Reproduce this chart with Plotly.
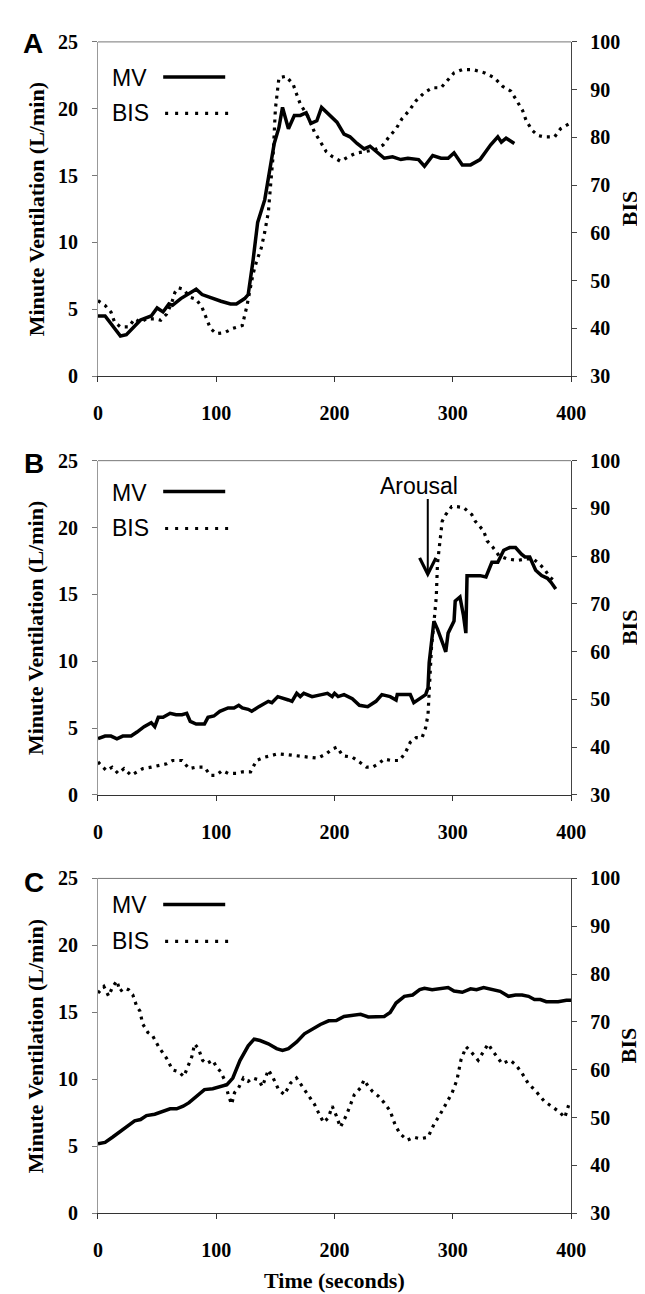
import plotly.graph_objects as go

# ---------------- data ----------------
# Panel A
tA_mv = [0, 6, 19, 24, 36, 45, 50, 55, 60, 63, 70, 83, 88, 97, 104, 112, 117, 124, 127, 131,
         135, 141, 146, 149, 153, 156, 161, 166, 171, 176, 180, 185, 189, 195, 202, 208, 213, 219, 225, 230,
         235, 242, 249, 256, 262, 271, 276, 283, 290, 296, 301, 308, 315, 323, 332, 338, 341, 345, 352]
mvA = [4.5, 4.5, 3.0, 3.1, 4.2, 4.5, 5.1, 4.8, 5.4, 5.3, 5.8, 6.5, 6.1, 5.8, 5.6, 5.4, 5.4, 5.8, 6.1, 8.6,
       11.5, 13.2, 15.9, 17.4, 18.6, 20.1, 18.5, 19.5, 19.5, 19.7, 18.9, 19.1, 20.1, 19.6, 19.0, 18.1, 17.9, 17.4, 17.0, 17.2,
       16.8, 16.3, 16.4, 16.2, 16.3, 16.2, 15.7, 16.5, 16.3, 16.3, 16.7, 15.8, 15.8, 16.2, 17.3, 17.9, 17.5, 17.8, 17.4]
tA_bis = [0, 6, 11, 14, 19, 26, 31, 36, 41, 48, 53, 58, 62, 65, 68, 72, 78, 83, 88, 92,
          95, 100, 107, 114, 122, 126, 131, 134, 138, 141, 144, 146, 148, 150, 153, 159, 165, 168, 171, 178,
          183, 188, 193, 198, 205, 212, 218, 225, 234, 241, 246, 252, 257, 263, 269, 276, 283, 290, 296, 301,
          308, 317, 327, 335, 342, 349, 354, 359, 362, 367, 372, 377, 386, 391, 398]
bisA = [45.8, 44.8, 43.4, 41.3, 40.3, 40.3, 42.0, 41.3, 42.0, 42.0, 41.7, 43.0, 45.1, 47.5, 48.5, 48.2, 46.5, 46.1, 44.4, 42.0,
        40.0, 38.9, 39.1, 40.0, 40.6, 44.8, 51.3, 54.0, 56.8, 60.2, 64.3, 70.2, 76.0, 86.0, 92.5, 92.8, 91.1, 89.0, 87.0, 84.2,
        81.1, 79.1, 77.0, 76.0, 75.0, 76.0, 76.7, 77.0, 77.4, 78.4, 80.1, 81.8, 83.9, 85.6, 87.7, 89.4, 90.4, 90.4, 92.1, 93.5,
        94.2, 94.2, 93.5, 92.5, 90.7, 89.7, 87.7, 85.6, 83.5, 81.5, 80.4, 80.1, 80.1, 81.8, 82.8]

# Panel B
tB_mv = [0, 6, 11, 16, 21, 28, 33, 39, 45, 48, 51, 55, 61, 66, 71, 75, 78, 83, 90, 93,
         98, 103, 110, 115, 119, 122, 127, 130, 136, 144, 147, 152, 161, 164, 168, 171, 174, 181, 189, 194,
         198, 200, 203, 208, 215, 221, 228, 235, 240, 247, 252, 253, 260, 264, 267, 270, 277, 279, 280, 284,
         287, 292, 294, 296, 301, 302, 306, 309, 311, 312, 318, 323, 328, 333, 338, 343, 348, 353, 358, 361,
         365, 370, 375, 380, 383, 387]
mvB = [4.2, 4.4, 4.4, 4.2, 4.4, 4.4, 4.7, 5.1, 5.4, 5.1, 5.8, 5.8, 6.1, 6.0, 6.0, 6.1, 5.5, 5.3, 5.3, 5.8,
       5.9, 6.25, 6.5, 6.5, 6.7, 6.5, 6.4, 6.25, 6.6, 7.0, 6.9, 7.35, 7.1, 7.0, 7.6, 7.35, 7.6, 7.35, 7.5, 7.6,
       7.35, 7.6, 7.35, 7.5, 7.2, 6.7, 6.6, 7.0, 7.5, 7.35, 7.1, 7.5, 7.5, 7.5, 6.9, 7.1, 7.5, 8.0, 9.9, 13.0,
       12.4, 11.2, 10.7, 12.1, 13.0, 14.5, 14.8, 13.4, 12.1, 16.4, 16.4, 16.4, 16.3, 17.4, 17.4, 18.3, 18.5, 18.5, 18.0, 17.8,
       17.8, 16.8, 16.4, 16.2, 15.9, 15.4]
tB_bis = [0, 7, 12, 17, 22, 28, 33, 38, 45, 51, 58, 63, 71, 77, 83, 90, 95, 100, 105, 110,
          117, 122, 129, 134, 141, 146, 152, 161, 169, 178, 186, 193, 198, 202, 207, 215, 221, 227, 232, 237,
          242, 248, 255, 260, 264, 269, 274, 277, 279, 280, 281, 282, 284, 286, 287, 289, 291, 294, 299, 302,
          309, 316, 319, 326, 329, 334, 339, 346, 355, 361, 368, 373, 377, 382, 385]
bisB = [36.9, 35.1, 35.8, 34.5, 35.5, 34.1, 34.8, 35.5, 35.8, 36.2, 36.5, 37.2, 37.2, 35.5, 35.8, 35.8, 34.1, 34.1, 35.1, 34.5,
        34.5, 34.8, 34.8, 37.2, 37.9, 38.2, 38.6, 38.4, 38.1, 37.9, 37.7, 38.6, 39.6, 40.0, 38.2, 37.9, 36.9, 35.8, 35.8, 36.5,
        37.5, 37.2, 37.2, 38.9, 41.0, 42.0, 42.0, 44.1, 46.8, 50.9, 54.4, 61.2, 66.0, 71.5, 78.4, 82.5, 87.3, 88.7, 90.4, 90.4,
        90.2, 88.7, 87.3, 85.3, 83.2, 81.8, 80.1, 79.4, 79.1, 79.4, 79.4, 78.4, 77.4, 75.6, 75.0]

# Panel C
tC_mv = [0, 6, 12.5, 19, 24, 31, 36, 41, 48, 55, 61, 66.5, 72, 77, 83, 90, 97, 104, 109, 114,
         120, 127, 132, 137, 144, 151, 156, 161, 168, 174.5, 181, 188, 195, 201.5, 208, 215, 222, 228.5, 235, 242,
         247, 252, 259, 266, 272, 276, 282.5, 289, 296, 301, 308, 315, 320, 326, 333, 340, 347, 353, 358.5, 364,
         369, 374, 379, 384, 389, 396, 400]
mvC = [5.2, 5.3, 5.7, 6.1, 6.4, 6.9, 7.0, 7.3, 7.4, 7.65, 7.8, 7.8, 8.0, 8.26, 8.75, 9.24, 9.3, 9.5, 9.6, 10.1,
       11.4, 12.5, 13.0, 12.9, 12.66, 12.3, 12.17, 12.3, 12.8, 13.4, 13.76, 14.1, 14.37, 14.4, 14.7, 14.8, 14.86, 14.66, 14.7, 14.7,
       15.0, 15.7, 16.2, 16.3, 16.7, 16.8, 16.7, 16.8, 16.86, 16.6, 16.5, 16.76, 16.7, 16.86, 16.7, 16.57, 16.2, 16.3, 16.3, 16.2,
       15.96, 15.96, 15.8, 15.8, 15.8, 15.9, 15.9]
tC_bis = [0, 5, 9, 12.5, 16, 18.6, 22.6, 26, 29.4, 32.7, 35.4, 37.8, 42.2, 46, 51.3, 58, 63, 68, 72.6, 76,
          79.3, 81.7, 85, 88.4, 91.8, 96.9, 100, 103.6, 107, 110.4, 113, 115.4, 118.8, 123, 127, 130.6, 135.7, 139, 144, 147.5,
          152.6, 157.6, 162.7, 167.8, 172.8, 177.9, 183, 186.3, 190.7, 194.8, 198, 201.5, 204.9, 210, 213.3, 216.7, 221.8, 225, 228.5, 232,
          237, 242, 247, 251.5, 255.5, 261.6, 267.3, 272.4, 279, 284.2, 289.3, 294.3, 299.4, 303.5, 306.8, 311.2, 315.6, 321.4, 324.7, 329.8,
          333.2, 336.5, 341.6, 348.4, 353.4, 358.5, 363.6, 370.3, 377, 383.8, 390.6, 394.6, 399]
bisC = [76.05, 77.4, 75.4, 77.4, 78.6, 76.4, 77.1, 76.7, 75.7, 73.3, 72.3, 69.6, 67.8, 67.2, 64.8, 62.4, 60.0, 59.6, 58.6, 60.7,
        62.7, 65.4, 64.4, 62.0, 61.3, 62.0, 60.7, 59.6, 57.9, 54.5, 52.8, 55.2, 56.2, 58.3, 57.6, 58.3, 57.9, 56.5, 60.0, 58.6,
        55.9, 54.8, 57.2, 58.3, 56.5, 54.5, 52.8, 51.1, 49.0, 50.0, 52.4, 50.4, 48.0, 50.5, 52.8, 54.8, 56.2, 57.9, 56.5, 55.5,
        54.5, 53.1, 51.4, 48.3, 46.6, 45.3, 45.9, 45.6, 45.9, 48.7, 50.7, 52.8, 55.2, 57.9, 62.0, 64.8, 63.7, 62.0, 63.4, 65.4,
        64.1, 63.0, 61.3, 62.0, 61.0, 59.3, 57.2, 55.5, 53.5, 52.3, 51.1, 50.0, 53.5]

panel_labels = ["A", "B", "C"]
x_ticks = [0, 100, 200, 300, 400]
mv_range = [0, 25]
bis_range = [30, 100]
series_names = ["MV", "BIS"]
left_title = "Minute Ventilation (L/min)"
right_title = "BIS"
bottom_title = "Time (seconds)"
event_label = "Arousal"
event_time = 278.8
event_mv = [22.25, 16.25]

# ---------------- layout helpers ----------------
W, H = 645, 1294
def px(x):
    return x / W
def py(y):
    return 1 - y / H

X0, X1 = 87.7, 576.0
tops = [23.3, 449.3, 874.3]
bottoms = [363.3, 789.3, 1215.0]
legend_y = [(60.0, 96.0), (481.7, 518.3), (901.7, 938.3)]
letter_pos = [(21, 25), (22, 452), (22, 878)]

SERIF = "Liberation Serif, Times New Roman, serif"
SANS = "Liberation Sans, Arial, sans-serif"
DOT = "3px,5px"

fig = go.Figure()
data = [(tA_mv, mvA, tA_bis, bisA), (tB_mv, mvB, tB_bis, bisB), (tC_mv, mvC, tC_bis, bisC)]

for i, (tm, mv, tb, bis) in enumerate(data):
    xa = "x" if i == 0 else f"x{i+1}"
    ya = "y" if i == 0 else f"y{2*i+1}"
    yb = f"y{2*i+2}"
    fig.add_trace(go.Scatter(x=tm, y=mv, xaxis=xa, yaxis=ya, mode="lines",
                             line=dict(color="black", width=3.5), name=series_names[0], showlegend=False))
    fig.add_trace(go.Scatter(x=tb, y=bis, xaxis=xa, yaxis=yb, mode="lines",
                             line=dict(color="black", width=3.2, dash=DOT), name=series_names[1], showlegend=False))

tickfont = dict(family=SERIF, size=20, color="black", weight="bold")
layout = dict(width=W, height=H, margin=dict(l=0, r=0, t=0, b=0),
              plot_bgcolor="white", paper_bgcolor="white", showlegend=False)
annotations = []
shapes = []
for i in range(3):
    xk = "xaxis" if i == 0 else f"xaxis{i+1}"
    yk = "yaxis" if i == 0 else f"yaxis{2*i+1}"
    yk2 = f"yaxis{2*i+2}"
    xa = "x" if i == 0 else f"x{i+1}"
    ya = "y" if i == 0 else f"y{2*i+1}"
    layout[xk] = dict(domain=[px(X0), px(X1)], anchor=ya, range=[0, 400], tickvals=x_ticks,
                      ticks="outside", ticklen=5, tickcolor="#333", showline=True, linecolor="#333",
                      linewidth=1.3, showgrid=False, zeroline=False, tickfont=tickfont,
                      ticklabelstandoff=14)
    layout[yk] = dict(domain=[py(bottoms[i]), py(tops[i])], anchor=xa, range=mv_range, dtick=5,
                      ticks="outside", ticklen=5, tickcolor="#777", showline=True, linecolor="#999",
                      linewidth=1.2, showgrid=False, zeroline=False, tickfont=tickfont,
                      ticklabelstandoff=10)
    layout[yk2] = dict(overlaying=ya, side="right", anchor=xa, range=bis_range, dtick=10,
                       ticks="outside", ticklen=5, tickcolor="#444", showline=True, linecolor="#444",
                       linewidth=1.2, showgrid=False, zeroline=False, tickfont=tickfont,
                       ticklabelstandoff=9)
    # top border
    shapes.append(dict(type="line", xref="paper", yref="paper", x0=px(X0), x1=px(X1),
                       y0=py(tops[i]), y1=py(tops[i]), line=dict(color="#777", width=1)))
    # panel letter
    annotations.append(dict(text=f"<b>{panel_labels[i]}</b>", xref="paper", yref="paper",
                            x=px(letter_pos[i][0]), y=py(letter_pos[i][1]), xanchor="center", yanchor="middle",
                            showarrow=False, font=dict(family=SANS, size=28, color="black")))
    # axis titles
    annotations.append(dict(text=f"<b>{left_title}</b>", xref="paper", yref="paper", x=px(24),
                            y=py((tops[i] + bottoms[i]) / 2), textangle=-90, xanchor="center", yanchor="middle",
                            showarrow=False, font=dict(family=SERIF, size=22, color="black")))
    annotations.append(dict(text=f"<b>{right_title}</b>", xref="paper", yref="paper", x=px(636),
                            y=py((tops[i] + bottoms[i]) / 2), textangle=-90, xanchor="center", yanchor="middle",
                            showarrow=False, font=dict(family=SERIF, size=22, color="black")))
    # legend
    ly1, ly2 = legend_y[i]
    annotations.append(dict(text=series_names[0], xref="paper", yref="paper", x=px(100), y=py(ly1),
                            xanchor="left", yanchor="middle", showarrow=False,
                            font=dict(family=SANS, size=23, color="black")))
    annotations.append(dict(text=series_names[1], xref="paper", yref="paper", x=px(100), y=py(ly2),
                            xanchor="left", yanchor="middle", showarrow=False,
                            font=dict(family=SANS, size=23, color="black")))
    shapes.append(dict(type="line", xref="paper", yref="paper", x0=px(155), x1=px(219),
                       y0=py(ly1 - 1), y1=py(ly1 - 1), line=dict(color="black", width=3.5)))
    shapes.append(dict(type="line", xref="paper", yref="paper", x0=px(157), x1=px(222),
                       y0=py(ly2), y1=py(ly2), line=dict(color="black", width=3.2, dash="3px,7px")))

annotations.append(dict(text=f"<b>{bottom_title}</b>", xref="paper", yref="paper", x=px((X0 + X1) / 2),
                        y=py(1283), xanchor="center", yanchor="middle", showarrow=False,
                        font=dict(family=SERIF, size=22, color="black")))
# Arousal event in panel B
annotations.append(dict(text=event_label, xref="x2", yref="y3", x=event_time - 7.6, y=23.1,
                        xanchor="center", yanchor="middle", showarrow=False,
                        font=dict(family=SANS, size=23, color="black")))
annotations.append(dict(text="", xref="x2", yref="y3", x=event_time, y=event_mv[1],
                        axref="x2", ayref="y3", ax=event_time, ay=event_mv[0], showarrow=True,
                        arrowhead=5, arrowsize=1.6, arrowwidth=2, arrowcolor="black"))

layout["annotations"] = annotations
layout["shapes"] = shapes
fig.update_layout(**layout)
fig.write_html("out.html")
